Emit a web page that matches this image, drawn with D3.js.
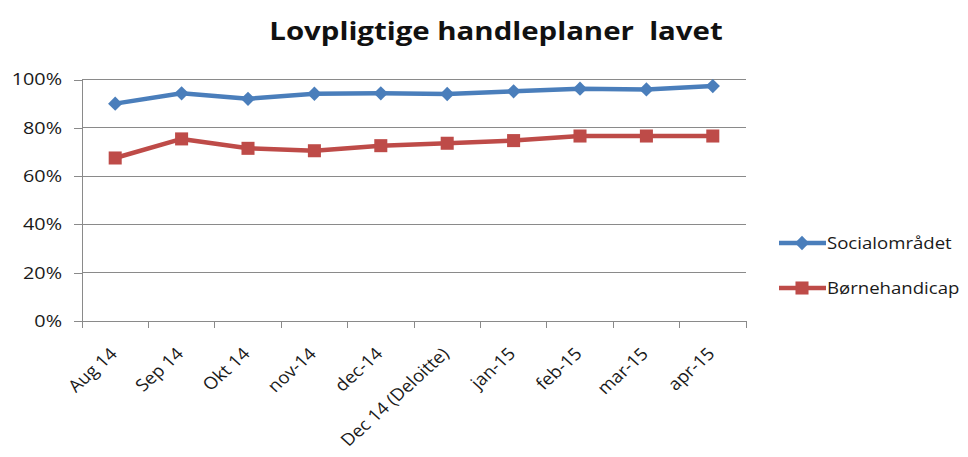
<!DOCTYPE html>
<html><head><meta charset="utf-8">
<script src="https://cdn.jsdelivr.net/npm/d3@7"></script>
<style>body{margin:0;background:#fff}svg{display:block}</style>
</head><body><svg id="c" width="968" height="457"></svg>
<script>
const categories = ["Aug 14","Sep 14","Okt 14","nov-14","dec-14","Dec 14 (Deloitte)","jan-15","feb-15","mar-15","apr-15"];
const seriesNames = ["Socialområdet","Børnehandicap"];
const socialomraadet = [0.90, 0.943, 0.92, 0.941, 0.943, 0.94, 0.951, 0.962, 0.959, 0.973];
const boernehandicap = [0.675, 0.754, 0.715, 0.705, 0.726, 0.736, 0.747, 0.766, 0.766, 0.766];
const yTicks = [0, 0.2, 0.4, 0.6, 0.8, 1.0];
const title = "Lovpligtige handleplaner\u00a0 lavet";

const svg = d3.select("#c");
const font = "'Open Sans', 'Noto Sans', sans-serif";
const SX = 1.2; // horizontal stretch of the original picture
const L = 82, R = 746, T = 79.5, B = 321;
const x = d3.scaleBand().domain(categories).range([L, R]);
const y = d3.scaleLinear().domain([0, 1]).range([B, T]);
const grid = "#8a8a8a", txt = "#1a1a1a";

svg.append("text").attr("transform", `translate(496,40) scale(${SX},1)`).attr("text-anchor", "middle")
  .attr("font-family", font).attr("font-weight", "bold").attr("font-size", 24.5)
  .attr("fill", "#111").text(title);

// gridlines
svg.append("g").selectAll("line").data(yTicks.filter(d => d > 0)).join("line")
  .attr("x1", L).attr("x2", R).attr("y1", d => y(d)).attr("y2", d => y(d))
  .attr("stroke", grid).attr("stroke-width", 1).attr("shape-rendering", "crispEdges");

const yAxis = svg.append("g").attr("transform", `translate(${L},0)`)
  .call(d3.axisLeft(y).tickValues(yTicks).tickFormat("").tickSize(8));
yAxis.select(".domain").attr("stroke", grid).attr("shape-rendering", "crispEdges");
yAxis.selectAll("line").attr("stroke", grid).attr("shape-rendering", "crispEdges");
svg.append("g").selectAll("text").data(yTicks).join("text")
  .attr("transform", d => `translate(62,${y(d)}) scale(${SX},1)`)
  .attr("text-anchor", "end").attr("dy", "0.36em")
  .attr("font-family", font).attr("font-size", 16.5).attr("fill", txt).text(d3.format(".0%"));

const xAxis = svg.append("g").attr("transform", `translate(0,${B})`)
  .call(d3.axisBottom(x).tickSize(0).tickFormat(""));
xAxis.select(".domain").attr("stroke", grid).attr("shape-rendering", "crispEdges");
const bounds = categories.map(c => x(c)).concat([R]);
svg.append("g").selectAll("line").data(bounds).join("line")
  .attr("x1", d => d).attr("x2", d => d).attr("y1", B).attr("y2", B + 7)
  .attr("stroke", grid).attr("shape-rendering", "crispEdges");
const cx = d => x(d) + x.bandwidth() / 2;
svg.append("g").selectAll("text").data(categories).join("text")
  .attr("transform", d => `translate(${cx(d) + 3},${B + 34}) scale(1.1,1) rotate(-45)`)
  .attr("text-anchor", "end")
  .attr("font-family", font).attr("font-size", 17).attr("fill", txt).text(d => d);

const line = d3.line().x((d, i) => cx(categories[i])).y(d => y(d));
const colors = ["#4a7ebb", "#be4b48"];
const data = [socialomraadet, boernehandicap];
const symFor = k => k === 0 ? d3.symbol(d3.symbolDiamond2, 130) : d3.symbol(d3.symbolSquare, 170);

data.forEach((vals, k) => {
  svg.append("path").datum(vals).attr("d", line).attr("fill", "none")
    .attr("stroke", colors[k]).attr("stroke-width", 4.5).attr("stroke-linejoin", "round");
  svg.append("g").selectAll("path").data(vals).join("path")
    .attr("transform", (d, i) => `translate(${cx(categories[i])},${y(d)})`)
    .attr("d", symFor(k)).attr("fill", colors[k]);
});

// legend
const lg = svg.append("g");
seriesNames.forEach((n, k) => {
  const ly = 243 + k * 45;
  lg.append("line").attr("x1", 779).attr("x2", 826).attr("y1", ly).attr("y2", ly)
    .attr("stroke", colors[k]).attr("stroke-width", 4.5);
  lg.append("path").attr("transform", `translate(802,${ly})`).attr("d", symFor(k)).attr("fill", colors[k]);
  lg.append("text").attr("transform", `translate(827,${ly}) scale(${SX},1)`).attr("dy", "0.36em")
    .attr("font-family", font).attr("font-size", 15.5).attr("fill", txt).text(n);
});
</script></body></html>
